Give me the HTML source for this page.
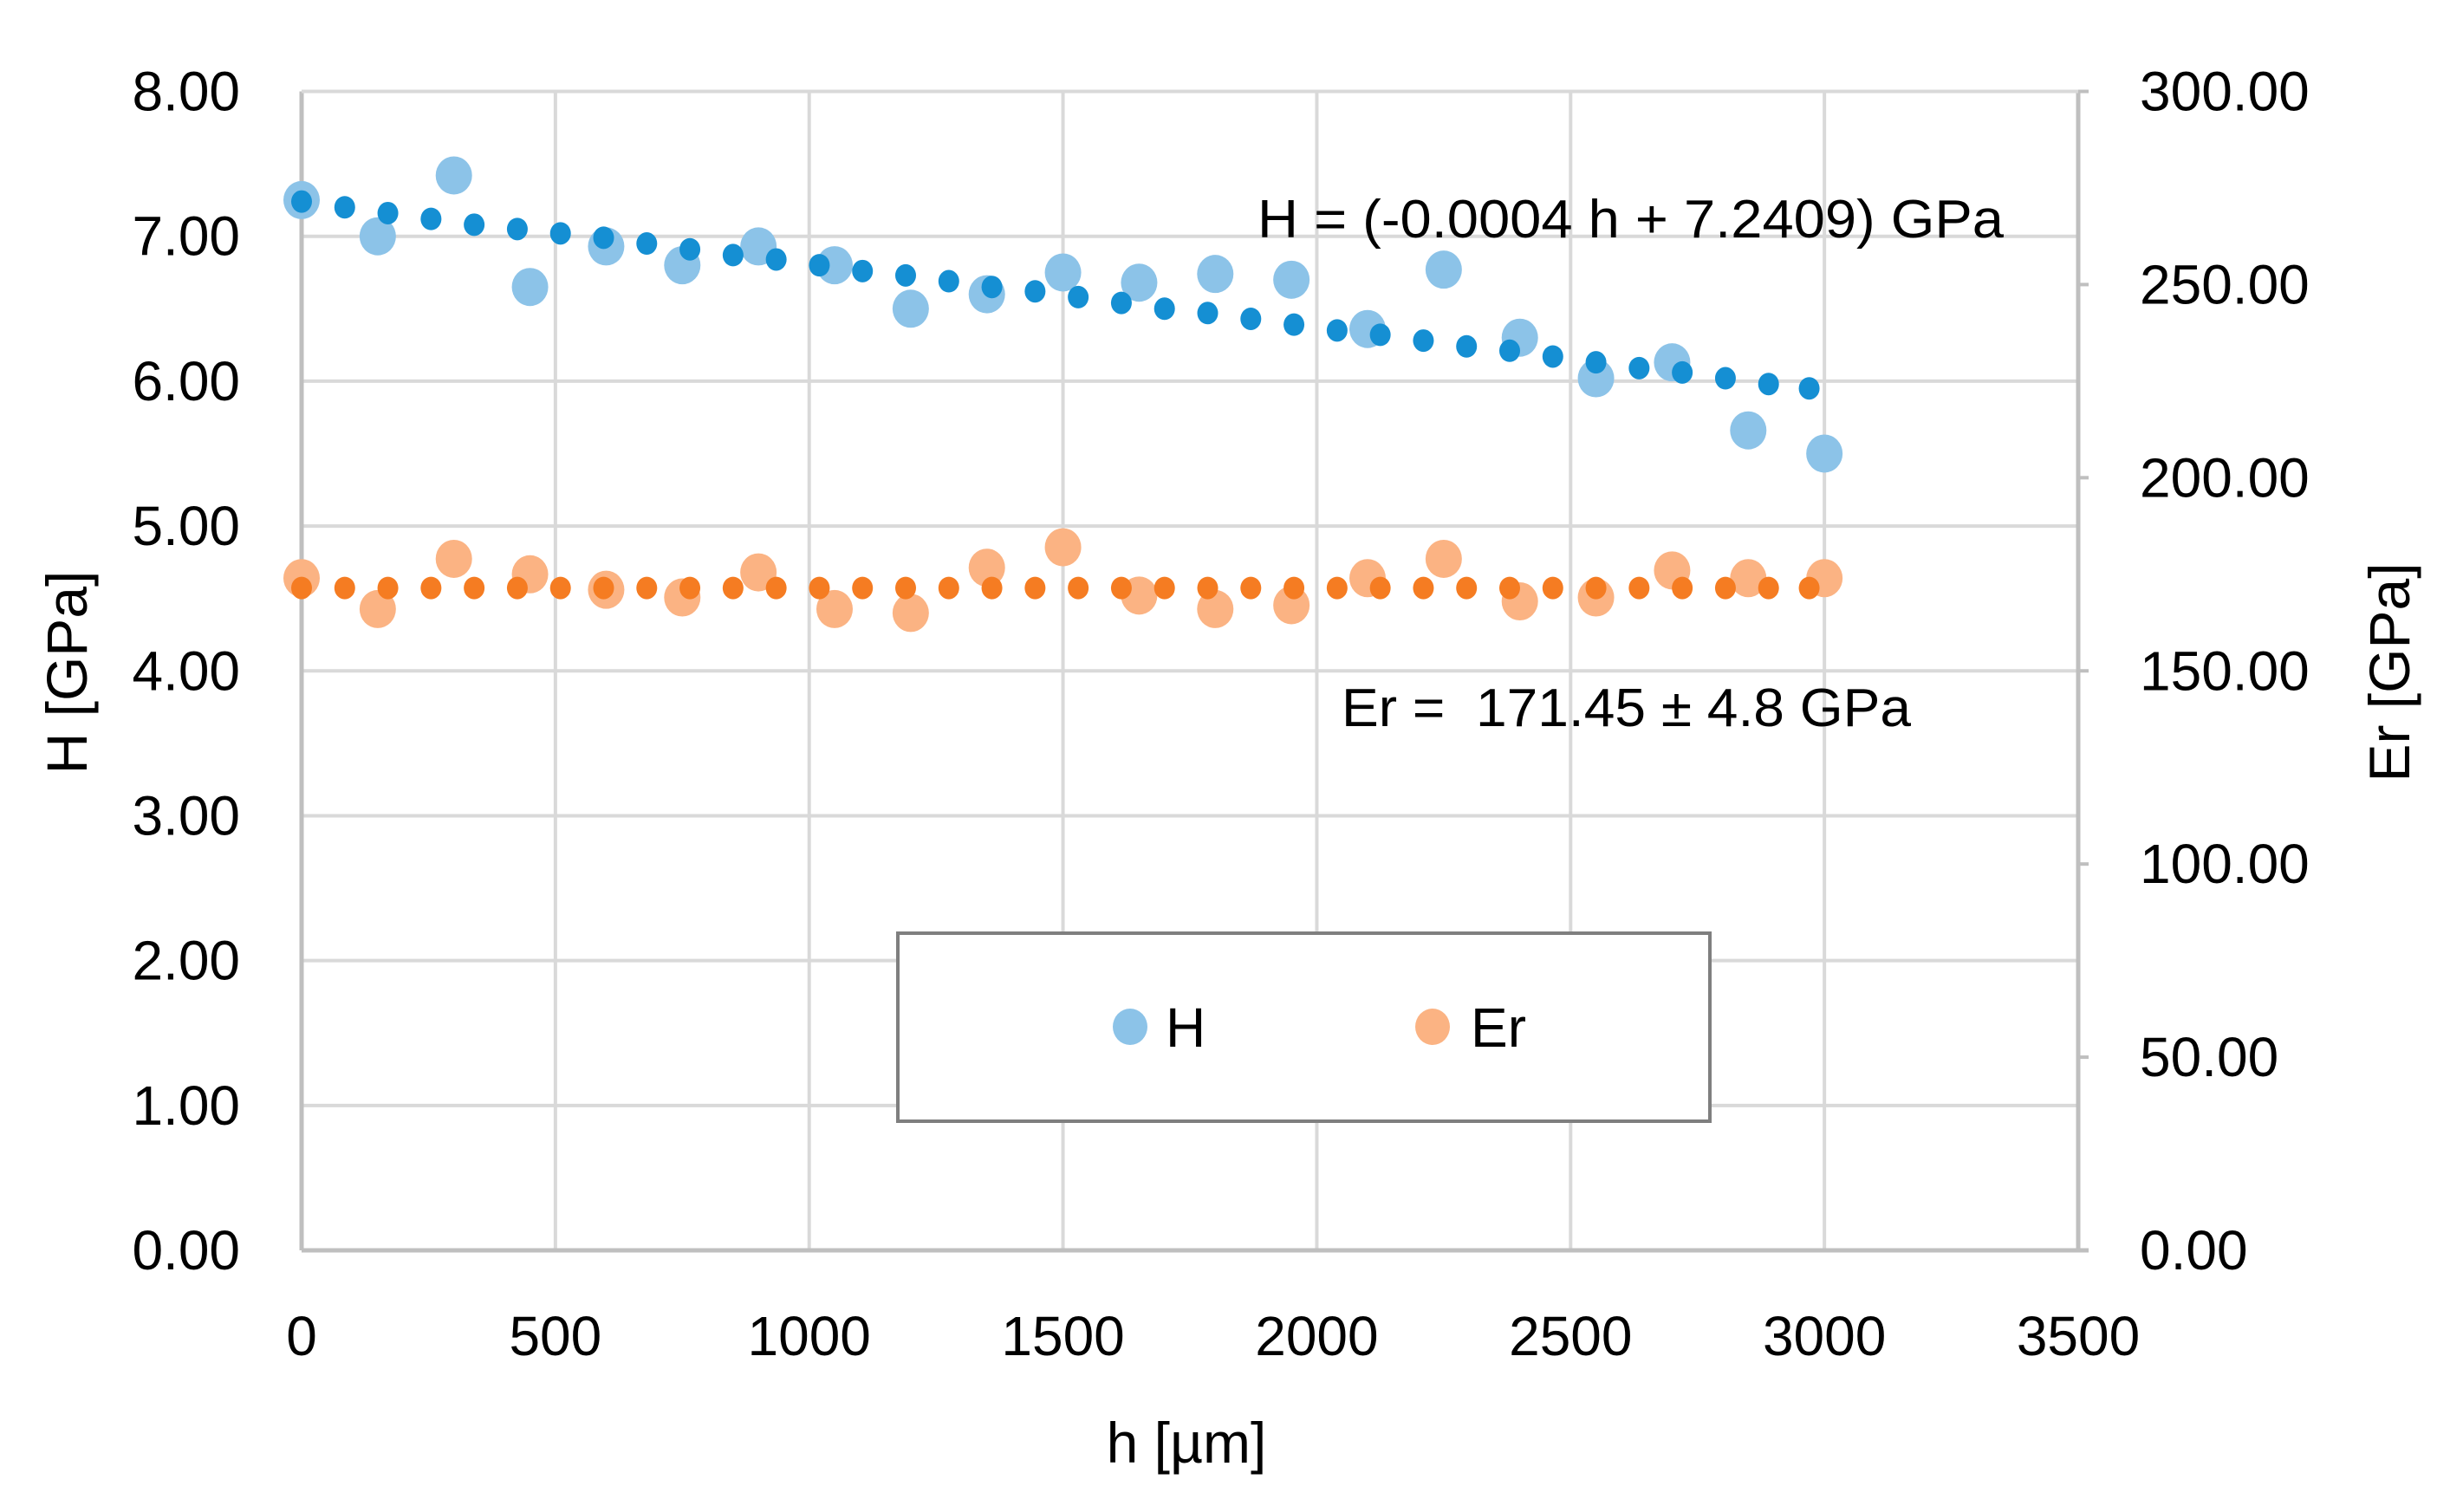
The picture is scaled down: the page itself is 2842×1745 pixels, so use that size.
<!DOCTYPE html>
<html><head><meta charset="utf-8"><style>
html,body{margin:0;padding:0;background:#fff}
svg{display:block}
text{font-family:"Liberation Sans",sans-serif;fill:#000}
</style></head><body>
<svg id="chart" width="2842" height="1745" viewBox="0 0 2842 1745" xmlns="http://www.w3.org/2000/svg">
<g id="grid"></g>
<g id="axes"></g>
<g id="marks"></g>
<text x="1451" y="274" font-size="62" textLength="861" lengthAdjust="spacingAndGlyphs">H = (-0.0004 h + 7.2409) GPa</text>
<text x="1548" y="838" font-size="62" textLength="657" lengthAdjust="spacingAndGlyphs" xml:space="preserve">Er =  171.45 ± 4.8 GPa</text>
<text x="1369" y="1688" font-size="66" text-anchor="middle">h [µm]</text>
<text transform="translate(100,776) rotate(-90)" font-size="66" text-anchor="middle">H [GPa]</text>
<text transform="translate(2780,776) rotate(-90)" font-size="66" text-anchor="middle">Er [GPa]</text>
<g>
<rect x="1036" y="1077" width="937" height="217" fill="#fff" stroke="#7f7f7f" stroke-width="4"/>
<ellipse cx="1304" cy="1185" rx="20" ry="21" fill="#8cc3e8"/>
<text x="1345" y="1208" font-size="64">H</text>
<ellipse cx="1653" cy="1185" rx="20" ry="21" fill="#fbb383"/>
<text x="1697" y="1208" font-size="64">Er</text>
</g>
</svg>
<script>
const xCats = [0,150,300,450,600,750,900,1050,1200,1350,1500,1650,1800,1950,2100,2250,2400,2550,2700,2850,3000];
const hValues = [7.25,7.00,7.42,6.65,6.93,6.80,6.93,6.80,6.50,6.60,6.75,6.68,6.74,6.70,6.36,6.77,6.30,6.02,6.13,5.66,5.50];
const erValues = [174,166,179,175,171,169,175.5,166,165,176.7,182,169.5,166,167,174,179,168,169,176,174,174];
const trendX = [0,85,170,255,340,425,510,595,680,765,850,935,1020,1105,1190,1275,1360,1445,1530,1615,1700,1785,1870,1955,2040,2125,2210,2295,2380,2465,2550,2635,2720,2805,2890,2970];
const hTrend = [7.24,7.20,7.16,7.12,7.08,7.05,7.02,6.99,6.95,6.91,6.87,6.84,6.80,6.76,6.73,6.69,6.65,6.62,6.58,6.54,6.50,6.47,6.43,6.39,6.35,6.32,6.28,6.24,6.21,6.17,6.13,6.09,6.06,6.02,5.98,5.95];
const erTrend = [171.45,171.45,171.45,171.45,171.45,171.45,171.45,171.45,171.45,171.45,171.45,171.45,171.45,171.45,171.45,171.45,171.45,171.45,171.45,171.45,171.45,171.45,171.45,171.45,171.45,171.45,171.45,171.45,171.45,171.45,171.45,171.45,171.45,171.45,171.45,171.45];
const xTicks = [0,500,1000,1500,2000,2500,3000,3500];
const yLeftTicks = ["0.00","1.00","2.00","3.00","4.00","5.00","6.00","7.00","8.00"];
const yRightTicks = ["0.00","50.00","100.00","150.00","200.00","250.00","300.00"];

const NS="http://www.w3.org/2000/svg";
const X0=348,X1=2398,Y0=1443,Y1=105.5;
const xs=v=>X0+(v/3500)*(X1-X0);
const yl=v=>Y0-(v/8)*(Y0-Y1);
const yr=v=>Y0-(v/300)*(Y0-Y1);
function mk(tag,attrs,parent){const e=document.createElementNS(NS,tag);for(const k in attrs)e.setAttribute(k,attrs[k]);parent.appendChild(e);return e;}
const grid=document.getElementById('grid'),axes=document.getElementById('axes'),marks=document.getElementById('marks');

yLeftTicks.forEach((t,i)=>{
  const v=parseFloat(t),y=yl(v);
  if(i>0){const g=mk('line',{x1:X0,x2:X1,y1:y,y2:y,stroke:'#d9d9d9','stroke-width':4},grid);
  
  }
  const tx=mk('text',{x:277,y:y+22,'font-size':64,'text-anchor':'end'},axes);tx.textContent=t;
  
  
});
xTicks.forEach(v=>{
  const x=xs(v);
  if(v>0&&v<3500){const g=mk('line',{x1:x,x2:x,y1:Y1,y2:Y0,stroke:'#d9d9d9','stroke-width':4},grid);
  
  }
  const tx=mk('text',{x:x,y:1564,'font-size':64,'text-anchor':'middle'},axes);tx.textContent=v;
  
  
});
yRightTicks.forEach(t=>{
  const y=yr(parseFloat(t));
  const tk=mk('line',{x1:X1,x2:X1+12,y1:y,y2:y,stroke:'#bfbfbf','stroke-width':4},axes);
  
  
  const tx=mk('text',{x:2469,y:y+22,'font-size':64},axes);tx.textContent=t;
  
  
});
let a=mk('line',{x1:X0,x2:X0,y1:Y1,y2:Y0,stroke:'#bfbfbf','stroke-width':5},axes);


a=mk('line',{x1:X1,x2:X1,y1:Y1,y2:Y0,stroke:'#bfbfbf','stroke-width':5},axes);


a=mk('line',{x1:X0,x2:X1+12,y1:Y0,y2:Y0,stroke:'#bfbfbf','stroke-width':5},axes);


a=mk('line',{x1:X0,x2:X1,y1:Y1,y2:Y1,stroke:'#d9d9d9','stroke-width':4},axes);



xCats.forEach((v,i)=>{
  const c=mk('ellipse',{cx:xs(v),cy:yr(erValues[i]),rx:21,ry:22,fill:'#fbb383'},marks);
  
  
});
xCats.forEach((v,i)=>{
  const c=mk('ellipse',{cx:xs(v),cy:yl(hValues[i]),rx:21,ry:22,fill:'#8cc3e8'},marks);
  
  
});
trendX.forEach((v,i)=>{
  const c=mk('ellipse',{cx:xs(v),cy:yr(erTrend[i]),rx:12,ry:13,fill:'#f57c22'},marks);
  
  
  const d=mk('ellipse',{cx:xs(v),cy:yl(hTrend[i]),rx:12,ry:13,fill:'#158fd3'},marks);
  
  
});
</script>
</body></html>
